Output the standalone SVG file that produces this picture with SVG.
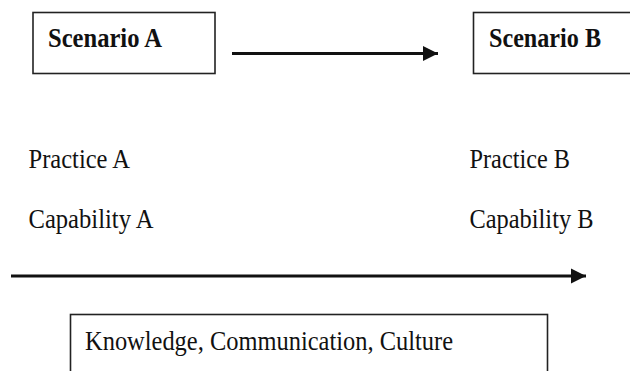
<svg xmlns="http://www.w3.org/2000/svg" width="630" height="371" viewBox="0 0 630 371">
<defs>
<style>
.box{fill:#fff;stroke:#222;stroke-width:1.6}
.t{font-family:"Liberation Serif","Times New Roman",serif;font-size:28px;fill:#111}
.b{font-weight:bold}
.conn{stroke:#111;stroke-width:3;fill:none}
</style>
<marker id="ah" markerWidth="6" markerHeight="6" refX="5" refY="3" orient="auto" markerUnits="strokeWidth">
<path d="M0,0.5 L5,3 L0,5.5 z" fill="#111"/>
</marker>
</defs>
<rect width="630" height="371" fill="#fff"/>
<g id="scenarioA">
<rect class="box" x="33" y="12.5" width="182" height="61"/>
<text class="t b" x="48" y="47" textLength="114" lengthAdjust="spacingAndGlyphs">Scenario A</text>
</g>
<g id="scenarioB">
<rect class="box" x="473.5" y="12.5" width="160" height="61"/>
<text class="t b" x="489" y="47" textLength="112" lengthAdjust="spacingAndGlyphs">Scenario B</text>
</g>
<g id="labelsA">
<text class="t" x="28.5" y="168" textLength="101.5" lengthAdjust="spacingAndGlyphs">Practice A</text>
<text class="t" x="28.5" y="227.5" textLength="125" lengthAdjust="spacingAndGlyphs">Capability A</text>
</g>
<g id="labelsB">
<text class="t" x="469.5" y="168" textLength="100.5" lengthAdjust="spacingAndGlyphs">Practice B</text>
<text class="t" x="469.5" y="227.5" textLength="124" lengthAdjust="spacingAndGlyphs">Capability B</text>
</g>
<g id="factors">
<rect class="box" x="70.5" y="314.5" width="477" height="70"/>
<text class="t" x="85" y="350" textLength="368" lengthAdjust="spacingAndGlyphs">Knowledge, Communication, Culture</text>
</g>
<g id="connectors">
<line class="conn" x1="232" y1="53.5" x2="438" y2="53.5" marker-end="url(#ah)"/>
<line class="conn" x1="11" y1="276" x2="586" y2="276" marker-end="url(#ah)"/>
</g>
</svg>
